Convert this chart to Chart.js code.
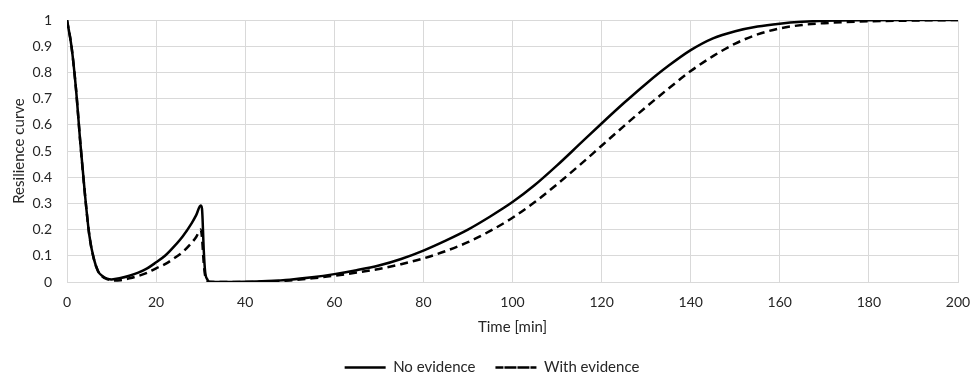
<!DOCTYPE html>
<html>
<head>
<meta charset="utf-8">
<script src="https://cdn.jsdelivr.net/npm/chart.js@4.4.1/dist/chart.umd.min.js"></script>
<style>
  html, body { margin: 0; padding: 0; background: #fff; }
  #wrap { width: 971px; height: 374px; }
</style>
</head>
<body>
<div id="wrap"><canvas id="resilience"></canvas></div>
<script>
// time axis [min] shared by both series
const times = [0, 1, 2, 3, 4, 5, 6, 7, 8, 9, 10, 12, 14, 16, 18, 20, 22, 24, 26, 28, 29, 30, 30.3, 30.7, 31, 31.5, 32, 35, 40, 45, 50, 55, 60, 65, 70, 75, 80, 85, 90, 95, 100, 105, 110, 115, 120, 125, 130, 135, 140, 145, 150, 155, 160, 165, 170, 180, 190, 200];

const noEvidence = [1.0, 0.9, 0.74, 0.53, 0.34, 0.18, 0.09, 0.04, 0.022, 0.013, 0.01, 0.015, 0.024, 0.036, 0.052, 0.075, 0.1, 0.135, 0.175, 0.225, 0.255, 0.292, 0.28, 0.12, 0.04, 0.01, 0.001, 0, 0.001, 0.004, 0.009, 0.018, 0.03, 0.045, 0.063, 0.088, 0.12, 0.158, 0.2, 0.25, 0.305, 0.37, 0.445, 0.525, 0.605, 0.683, 0.757, 0.825, 0.885, 0.93, 0.957, 0.975, 0.986, 0.993, 0.997, 0.999, 1, 1];

const withEvidence = [1.0, 0.9, 0.74, 0.53, 0.34, 0.18, 0.09, 0.04, 0.02, 0.011, 0.006, 0.007, 0.014, 0.023, 0.035, 0.052, 0.068, 0.09, 0.115, 0.15, 0.172, 0.2, 0.17, 0.07, 0.025, 0.005, 0, 0, 0, 0.002, 0.006, 0.014, 0.024, 0.036, 0.05, 0.068, 0.09, 0.118, 0.152, 0.195, 0.245, 0.305, 0.373, 0.445, 0.52, 0.595, 0.668, 0.738, 0.805, 0.862, 0.91, 0.945, 0.968, 0.981, 0.988, 0.995, 0.998, 1];

const seriesNames = ['No evidence', 'With evidence'];
const xTickStep = 20;
const yTickStep = 0.1;

const toPoints = (vals) => vals.map((v, i) => ({ x: times[i], y: v }));

const gridColor = '#d9d9d9';
const textColor = '#262626';
Chart.defaults.font.family = 'Lato, "Open Sans", sans-serif';
Chart.defaults.font.size = 14;
Chart.defaults.color = textColor;

// legend sits a bit right of the plot centre in the original
const shiftLegend = {
  id: 'shiftLegend',
  afterLayout(chart) {
    chart.legend.left += 11;
    chart.legend.right += 11;
  }
};

const ctx = document.getElementById('resilience').getContext('2d');

new Chart(ctx, {
  type: 'line',
  data: {
    datasets: [
      {
        label: seriesNames[0],
        data: toPoints(noEvidence),
        borderColor: '#000',
        backgroundColor: 'transparent',
        borderWidth: 2.5,
        pointRadius: 0,
        cubicInterpolationMode: 'monotone',
      },
      {
        label: seriesNames[1],
        data: toPoints(withEvidence),
        borderColor: '#000',
        backgroundColor: 'transparent',
        borderWidth: 2.5,
        borderDash: [8, 5],
        pointRadius: 0,
        cubicInterpolationMode: 'monotone',
      }
    ]
  },
  plugins: [shiftLegend],
  options: {
    responsive: true,
    maintainAspectRatio: false,
    animation: false,
    layout: {
      padding: { left: 4, right: 13, top: 20, bottom: -11 }
    },
    plugins: {
      tooltip: { enabled: false },
      legend: {
        position: 'bottom',
        labels: {
          boxWidth: 41,
          boxHeight: 0,
          padding: 20,
          font: { size: 15 },
          color: textColor,
        }
      }
    },
    scales: {
      x: {
        type: 'linear',
        min: 0,
        max: 200,
        ticks: {
          stepSize: xTickStep,
          maxRotation: 0,
          padding: 12,
        },
        grid: {
          color: gridColor,
          drawTicks: false,
        },
        border: { color: gridColor },
        title: {
          display: true,
          text: 'Time [min]',
          font: { size: 15 },
          padding: { top: 7, bottom: 4 },
        },
        // chart.js counts tick padding twice, so fix the band size here
        afterFit: (scale) => {
          scale.height = 58;
          scale.paddingLeft = 0;
          scale.paddingRight = 0;
        },
      },
      y: {
        min: 0,
        max: 1,
        ticks: {
          stepSize: yTickStep,
          padding: 15,
          callback: (v) => Number(v.toFixed(1)).toString(),
        },
        grid: {
          color: gridColor,
          drawTicks: false,
        },
        border: { color: gridColor },
        title: {
          display: true,
          text: 'Resilience curve',
          font: { size: 15 },
          padding: { top: 6, bottom: 4 },
        },
        afterFit: (scale) => {
          scale.width = 63;
          scale.paddingTop = 0;
          scale.paddingBottom = 0;
        },
      }
    }
  }
});
</script>
</body>
</html>
